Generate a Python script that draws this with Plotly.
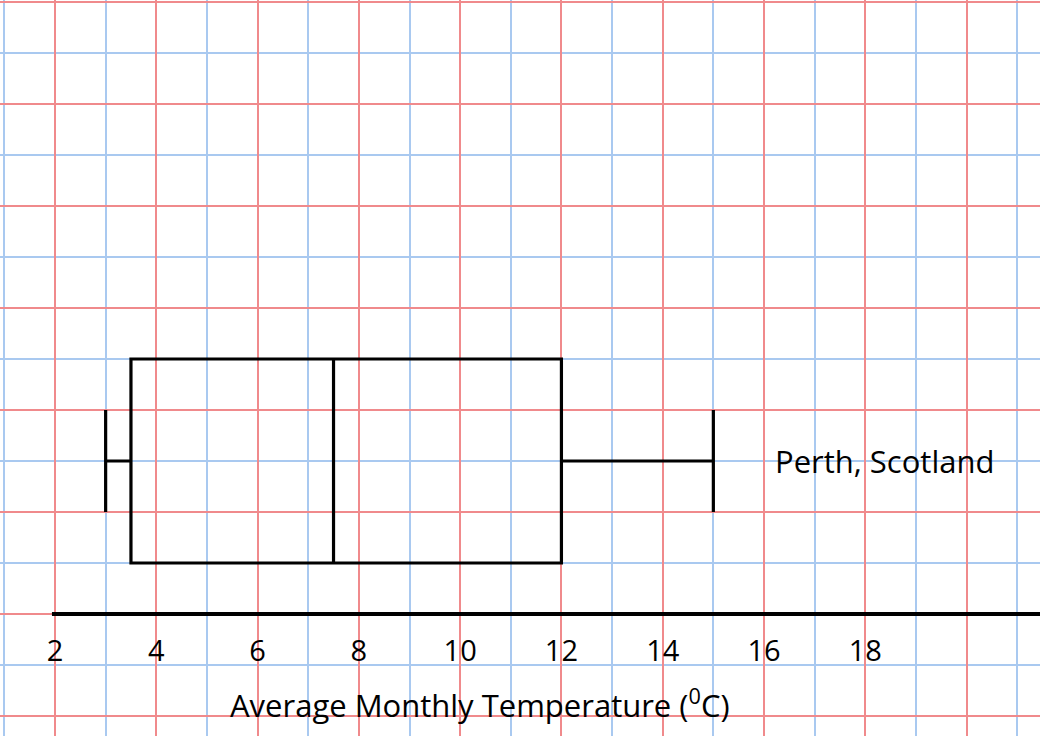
import plotly.graph_objects as go

# ---- data ----
city = ["Perth, Scotland"]
lower_fence = [3]
q1 = [3.5]
median = [7.5]
q3 = [12]
upper_fence = [15]
tick_labels = ["2", "4", "6", "8", "10", "12", "14", "16", "18"]
x_title = "Average Monthly Temperature (<sup>0</sup>C)"

RED = "#f08a8c"
BLUE = "#a9c9f0"
FONT = "Open Sans"

tick_vals = [float(t) for t in tick_labels]

x_range = [0.914, 21.45]
y_range = [-0.392, 14.04]
box_pos = 5
axis_y = 2
axis_frac = (axis_y - y_range[0]) / (y_range[1] - y_range[0])

fig = go.Figure()
fig.add_trace(go.Box(
    y=[box_pos], q1=q1, median=median, q3=q3,
    lowerfence=lower_fence, upperfence=upper_fence,
    orientation="h", width=4, whiskerwidth=0.5,
    line=dict(color="black", width=3.2),
    fillcolor="rgba(0,0,0,0)", boxpoints=False,
    name=city[0], showlegend=False, hoverinfo="skip",
))

# axis line
fig.add_shape(type="line", xref="x", yref="y",
              x0=tick_vals[0] - 0.06, x1=x_range[1], y0=axis_y, y1=axis_y,
              line=dict(color="black", width=4), layer="above")

# series label
fig.add_annotation(x=upper_fence[0] + 1.18, y=box_pos, xref="x", yref="y",
                   text=city[0], showarrow=False, xanchor="left", yanchor="middle",
                   font=dict(family=FONT, size=31, color="black"))

# axis title
fig.add_annotation(x=480 / 1040, y=(736 - 703) / 736, xref="paper", yref="paper",
                   text=x_title, showarrow=False, xanchor="center", yanchor="middle",
                   font=dict(family=FONT, size=31, color="black"))

fig.update_layout(
    width=1040, height=736,
    margin=dict(l=0, r=0, t=0, b=0),
    paper_bgcolor="white", plot_bgcolor="white",
    showlegend=False,
    xaxis=dict(range=x_range, tickmode="linear", tick0=0, dtick=2,
               showgrid=True, gridcolor=RED, gridwidth=2,
               minor=dict(dtick=1, tick0=1, showgrid=True, gridcolor=BLUE, gridwidth=2),
               zeroline=False, showline=False, ticks="", showticklabels=False),
    xaxis2=dict(range=x_range, overlaying="x", matches="x", side="bottom",
                tickmode="array", tickvals=tick_vals, ticktext=tick_labels,
                showgrid=False, zeroline=False, showline=False, ticks="",
                anchor="free", position=axis_frac, ticklabelstandoff=17,
                tickfont=dict(family=FONT, size=29, color="black")),
    yaxis=dict(range=y_range, tickmode="linear", tick0=0, dtick=2,
               showgrid=True, gridcolor=RED, gridwidth=2,
               minor=dict(dtick=1, tick0=1, showgrid=True, gridcolor=BLUE, gridwidth=2),
               zeroline=False, showline=False, showticklabels=False, ticks=""),
)

# invisible trace so the label axis is drawn
fig.add_trace(go.Scatter(x=[tick_vals[0]], y=[axis_y], xaxis="x2", yaxis="y",
                         mode="markers", marker=dict(opacity=0), showlegend=False,
                         hoverinfo="skip"))

fig.write_html("out.html", config={"displayModeBar": False},
               post_script="document.body.style.margin='0';")
